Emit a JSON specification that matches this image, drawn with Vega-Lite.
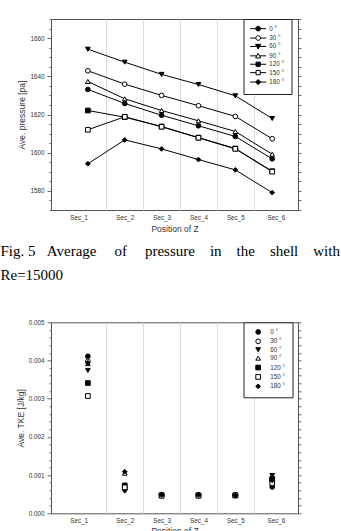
{
  "$schema": "https://vega.github.io/schema/vega-lite/v6.json",
  "background": "white",
  "padding": {"left": 0, "top": 15, "right": 0, "bottom": 0},
  "bounds": "flush",
  "spacing": 112.3,
  "config": {
    "font": "Liberation Sans",
    "view": {"stroke": "#555", "strokeWidth": 1},
    "axis": {
      "labelFont": "Liberation Sans", "labelFontSize": 6.3, "labelColor": "#333",
      "titleFont": "Liberation Sans", "titleFontSize": 8.5, "titleFontWeight": "normal", "titleColor": "#333",
      "domain": false, "tickColor": "#444", "tickWidth": 0.8, "grid": false, "labelOverlap": false
    },
    "legend": {
      "orient": "none", "legendX": 192.5, "legendY": 0,
      "strokeColor": "#222", "fillColor": "white", "padding": 6.5, "rowPadding": -0.6,
      "labelFont": "Liberation Sans", "labelFontSize": 6.3, "labelColor": "#333",
      "symbolSize": 22, "symbolStrokeWidth": 1,
      "symbolOffset": 5, "labelOffset": 9
    }
  },
  "datasets": {
    "pressure": [
      {"z": 1, "angle": "0 °", "p": 1633.1}, {"z": 2, "angle": "0 °", "p": 1625.8}, {"z": 3, "angle": "0 °", "p": 1619.6},
      {"z": 4, "angle": "0 °", "p": 1614.1}, {"z": 5, "angle": "0 °", "p": 1608.5}, {"z": 6, "angle": "0 °", "p": 1596.8},
      {"z": 1, "angle": "30 °", "p": 1642.9}, {"z": 2, "angle": "30 °", "p": 1635.9}, {"z": 3, "angle": "30 °", "p": 1630.0},
      {"z": 4, "angle": "30 °", "p": 1624.6}, {"z": 5, "angle": "30 °", "p": 1619.0}, {"z": 6, "angle": "30 °", "p": 1607.3},
      {"z": 1, "angle": "60 °", "p": 1654.2}, {"z": 2, "angle": "60 °", "p": 1647.4}, {"z": 3, "angle": "60 °", "p": 1641.0},
      {"z": 4, "angle": "60 °", "p": 1635.7}, {"z": 5, "angle": "60 °", "p": 1629.8}, {"z": 6, "angle": "60 °", "p": 1617.9},
      {"z": 1, "angle": "90 °", "p": 1637.3}, {"z": 2, "angle": "90 °", "p": 1628.2}, {"z": 3, "angle": "90 °", "p": 1622.1},
      {"z": 4, "angle": "90 °", "p": 1616.7}, {"z": 5, "angle": "90 °", "p": 1611.1}, {"z": 6, "angle": "90 °", "p": 1599.2},
      {"z": 1, "angle": "120 °", "p": 1622.1}, {"z": 2, "angle": "120 °", "p": 1618.6}, {"z": 3, "angle": "120 °", "p": 1613.7},
      {"z": 4, "angle": "120 °", "p": 1607.9}, {"z": 5, "angle": "120 °", "p": 1602.2}, {"z": 6, "angle": "120 °", "p": 1590.3},
      {"z": 1, "angle": "150 °", "p": 1612.0}, {"z": 2, "angle": "150 °", "p": 1618.8}, {"z": 3, "angle": "150 °", "p": 1613.6},
      {"z": 4, "angle": "150 °", "p": 1607.8}, {"z": 5, "angle": "150 °", "p": 1602.0}, {"z": 6, "angle": "150 °", "p": 1590.1},
      {"z": 1, "angle": "180 °", "p": 1594.2}, {"z": 2, "angle": "180 °", "p": 1606.7}, {"z": 3, "angle": "180 °", "p": 1602.0},
      {"z": 4, "angle": "180 °", "p": 1596.4}, {"z": 5, "angle": "180 °", "p": 1591.0}, {"z": 6, "angle": "180 °", "p": 1579.1}
    ],
    "tke": [
      {"z": 1, "angle": "0 °", "k": 0.00411}, {"z": 2, "angle": "0 °", "k": 0.00062}, {"z": 3, "angle": "0 °", "k": 0.00049},
      {"z": 4, "angle": "0 °", "k": 0.00048}, {"z": 5, "angle": "0 °", "k": 0.00047}, {"z": 6, "angle": "0 °", "k": 0.00069},
      {"z": 1, "angle": "30 °", "k": 0.00398}, {"z": 2, "angle": "30 °", "k": 0.00066}, {"z": 3, "angle": "30 °", "k": 0.00048},
      {"z": 4, "angle": "30 °", "k": 0.00047}, {"z": 5, "angle": "30 °", "k": 0.00047}, {"z": 6, "angle": "30 °", "k": 0.00087},
      {"z": 1, "angle": "60 °", "k": 0.00374}, {"z": 2, "angle": "60 °", "k": 0.00058}, {"z": 3, "angle": "60 °", "k": 0.00047},
      {"z": 4, "angle": "60 °", "k": 0.00046}, {"z": 5, "angle": "60 °", "k": 0.00047}, {"z": 6, "angle": "60 °", "k": 0.00099},
      {"z": 1, "angle": "90 °", "k": 0.00392}, {"z": 2, "angle": "90 °", "k": 0.00105}, {"z": 3, "angle": "90 °", "k": 0.00048},
      {"z": 4, "angle": "90 °", "k": 0.00047}, {"z": 5, "angle": "90 °", "k": 0.00047}, {"z": 6, "angle": "90 °", "k": 0.00096},
      {"z": 1, "angle": "120 °", "k": 0.00341}, {"z": 2, "angle": "120 °", "k": 0.00073}, {"z": 3, "angle": "120 °", "k": 0.00047},
      {"z": 4, "angle": "120 °", "k": 0.00047}, {"z": 5, "angle": "120 °", "k": 0.00047}, {"z": 6, "angle": "120 °", "k": 0.00090},
      {"z": 1, "angle": "150 °", "k": 0.00307}, {"z": 2, "angle": "150 °", "k": 0.00068}, {"z": 3, "angle": "150 °", "k": 0.00046},
      {"z": 4, "angle": "150 °", "k": 0.00046}, {"z": 5, "angle": "150 °", "k": 0.00047}, {"z": 6, "angle": "150 °", "k": 0.00079},
      {"z": 1, "angle": "180 °", "k": 0.00394}, {"z": 2, "angle": "180 °", "k": 0.00109}, {"z": 3, "angle": "180 °", "k": 0.00048},
      {"z": 4, "angle": "180 °", "k": 0.00048}, {"z": 5, "angle": "180 °", "k": 0.00047}, {"z": 6, "angle": "180 °", "k": 0.00086}
    ]
  },
  "resolve": {
    "scale": {"shape": "independent", "fill": "independent", "stroke": "independent"},
    "legend": {"shape": "independent", "fill": "independent", "stroke": "independent"}
  },
  "vconcat": [
    {
      "width": 247,
      "height": 191,
      "data": {"name": "pressure"},
      "layer": [
        {
          "mark": {"type": "line", "color": "black", "strokeWidth": 1},
          "encoding": {
            "x": {
              "field": "z", "type": "quantitative",
              "scale": {"domain": [0, 6.7], "nice": false, "zero": false},
              "axis": {
                "orient": "bottom", "title": "Position of Z",
                "values": [0.75, 2, 3, 4, 5, 6.1],
                "labelExpr": "'Sec_' + round(datum.value)",
                "ticks": false, "labelPadding": 4, "titlePadding": 4
              }
            },
            "y": {
              "field": "p", "type": "quantitative",
              "scale": {"domain": [1570, 1670], "nice": false, "zero": false},
              "axis": {
                "orient": "left", "title": "Ave. pressure [pa]", "format": "d",
                "values": [1570, 1575, 1580, 1585, 1590, 1595, 1600, 1605, 1610, 1615, 1620, 1625, 1630, 1635, 1640, 1645, 1650, 1655, 1660, 1665, 1670],
                "labelExpr": "datum.value % 20 === 0 ? datum.label : ''",
                "tickSize": {"condition": {"test": "datum.value % 20 === 0", "value": 4}, "value": 2},
                "labelPadding": 3, "titlePadding": 3
              }
            },
            "detail": {"field": "angle", "type": "nominal"}
          }
        },
        {
          "mark": {"type": "point", "filled": true, "stroke": "black", "strokeWidth": 1, "size": 22, "opacity": 1},
          "encoding": {
            "x": {
              "field": "z", "type": "quantitative",
              "axis": {
                "orient": "top", "title": null, "values": [1.5, 2.5, 3.5, 4.5, 5.5],
                "grid": true, "gridColor": "#ddd", "gridWidth": 1, "labels": false, "ticks": false, "domain": false
              }
            },
            "y": {
              "field": "p", "type": "quantitative",
              "axis": {
                "orient": "right", "title": null, "labels": false, "tickSize": 3,
                "values": [1570, 1575, 1580, 1585, 1590, 1595, 1600, 1605, 1610, 1615, 1620, 1625, 1630, 1635, 1640, 1645, 1650, 1655, 1660, 1665, 1670]
              }
            },
            "shape": {
              "field": "angle", "type": "nominal", "legend": null,
              "scale": {
                "domain": ["0 °", "30 °", "60 °", "90 °", "120 °", "150 °", "180 °"],
                "range": ["circle", "circle", "triangle-down", "triangle-up", "square", "square", "diamond"]
              }
            },
            "fill": {
              "field": "angle", "type": "nominal", "legend": null,
              "scale": {
                "domain": ["0 °", "30 °", "60 °", "90 °", "120 °", "150 °", "180 °"],
                "range": ["black", "white", "black", "white", "black", "white", "black"]
              }
            }
          }
        },
        {
          "transform": [{"filter": "false"}],
          "mark": {"type": "point", "filled": true, "strokeWidth": 1, "size": 22, "opacity": 1},
          "encoding": {
            "x": {"field": "z", "type": "quantitative", "axis": null},
            "y": {"field": "p", "type": "quantitative", "axis": null},
            "shape": {
              "field": "angle", "type": "nominal",
              "legend": {"title": null, "labelOffset": 8},
              "scale": {
                "domain": ["0 °", "30 °", "60 °", "90 °", "120 °", "150 °", "180 °"],
                "range": [
                  "M-3.4,0H-1M1,0H3.4M1,0A1,1,0,1,1,-1,0A1,1,0,1,1,1,0Z",
                  "M-3.4,0H-1M1,0H3.4M1,0A1,1,0,1,1,-1,0A1,1,0,1,1,1,0Z",
                  "M-3.4,0H-0.6M0.6,0H3.4M0,1.1L1.1,-0.9H-1.1Z",
                  "M-3.4,0H-0.6M0.6,0H3.4M0,-1.1L1.1,0.9H-1.1Z",
                  "M-3.4,0H-0.9M0.9,0H3.4M-0.9,-0.9H0.9V0.9H-0.9Z",
                  "M-3.4,0H-0.9M0.9,0H3.4M-0.9,-0.9H0.9V0.9H-0.9Z",
                  "M-3.4,0H-1.1M1.1,0H3.4M0,-1.1L1.1,0L0,1.1L-1.1,0Z"
                ]
              }
            },
            "fill": {
              "field": "angle", "type": "nominal",
              "legend": {"title": null, "labelOffset": 8},
              "scale": {
                "domain": ["0 °", "30 °", "60 °", "90 °", "120 °", "150 °", "180 °"],
                "range": ["black", "white", "black", "white", "black", "white", "black"]
              }
            },
            "stroke": {
              "field": "angle", "type": "nominal",
              "legend": {"title": null, "labelOffset": 8},
              "scale": {
                "domain": ["0 °", "30 °", "60 °", "90 °", "120 °", "150 °", "180 °"],
                "range": ["black", "black", "black", "black", "black", "black", "black"]
              }
            }
          }
        }
      ],
      "resolve": {
        "axis": {"x": "independent", "y": "independent"},
        "scale": {"shape": "independent", "fill": "independent", "stroke": "independent"},
        "legend": {"shape": "independent", "fill": "independent", "stroke": "independent"}
      }
    },
    {
      "width": 247,
      "height": 191,
      "data": {"name": "tke"},
      "title": {
        "text": [
          "Fig. 5 \u00a0\u00a0Average\u00a0\u00a0\u00a0\u00a0\u2009of\u00a0\u00a0\u00a0\u00a0\u2009pressure\u00a0\u00a0\u00a0\u00a0in\u00a0\u00a0\u00a0\u00a0the\u00a0\u00a0\u00a0\u00a0shell\u00a0\u00a0\u00a0\u00a0with",
          "\u00a0\u00a0\u00a0\u00a0\u00a0\u00a0\u00a0\u00a0\u00a0\u00a0\u00a0\u00a0\u2009Re=15000"
        ],
        "anchor": "start", "frame": "group", "dx": -50.5,
        "font": "Liberation Serif", "fontSize": 15, "fontWeight": "normal", "color": "black",
        "lineHeight": 23.5, "baseline": "bottom", "offset": 21.5
      },
      "layer": [
        {
          "mark": {"type": "point", "filled": true, "strokeWidth": 1, "size": 22, "opacity": 1},
          "encoding": {
            "x": {
              "field": "z", "type": "quantitative",
              "scale": {"domain": [0, 6.7], "nice": false, "zero": false},
              "axis": {
                "orient": "bottom", "title": "Position of Z",
                "values": [0.75, 2, 3, 4, 5, 6.1],
                "labelExpr": "'Sec_' + round(datum.value)",
                "ticks": false, "labelPadding": 4, "titlePadding": 3
              }
            },
            "y": {
              "field": "k", "type": "quantitative",
              "scale": {"domain": [0, 0.005], "nice": false, "zero": false},
              "axis": {
                "orient": "left", "title": "Ave. TKE [J/kg]", "format": ".3f",
                "values": [0, 0.0002, 0.0004, 0.0006, 0.0008, 0.001, 0.0012, 0.0014, 0.0016, 0.0018, 0.002, 0.0022, 0.0024, 0.0026, 0.0028, 0.003, 0.0032, 0.0034, 0.0036, 0.0038, 0.004, 0.0042, 0.0044, 0.0046, 0.0048, 0.005],
                "labelExpr": "abs(round(datum.value * 10000) % 10) < 0.5 ? datum.label : ''",
                "tickSize": {"condition": {"test": "abs(round(datum.value * 10000) % 10) < 0.5", "value": 4}, "value": 2},
                "labelPadding": 3, "titlePadding": 3
              }
            },
            "shape": {
              "field": "angle", "type": "nominal", "legend": {"title": null},
              "scale": {
                "domain": ["0 °", "30 °", "60 °", "90 °", "120 °", "150 °", "180 °"],
                "range": ["circle", "circle", "triangle-down", "triangle-up", "square", "square", "diamond"]
              }
            },
            "fill": {
              "field": "angle", "type": "nominal", "legend": {"title": null},
              "scale": {
                "domain": ["0 °", "30 °", "60 °", "90 °", "120 °", "150 °", "180 °"],
                "range": ["black", "white", "black", "white", "black", "white", "black"]
              }
            },
            "stroke": {
              "field": "angle", "type": "nominal", "legend": {"title": null},
              "scale": {
                "domain": ["0 °", "30 °", "60 °", "90 °", "120 °", "150 °", "180 °"],
                "range": ["black", "black", "black", "black", "black", "black", "black"]
              }
            }
          }
        },
        {
          "mark": {"type": "point", "opacity": 0},
          "encoding": {
            "x": {
              "field": "z", "type": "quantitative",
              "axis": {
                "orient": "top", "title": null, "values": [1.5, 2.5, 3.5, 4.5, 5.5],
                "grid": true, "gridColor": "#ddd", "gridWidth": 1, "labels": false, "ticks": false, "domain": false
              }
            },
            "y": {
              "field": "k", "type": "quantitative",
              "axis": {
                "orient": "right", "title": null, "labels": false, "tickSize": 3,
                "values": [0, 0.0002, 0.0004, 0.0006, 0.0008, 0.001, 0.0012, 0.0014, 0.0016, 0.0018, 0.002, 0.0022, 0.0024, 0.0026, 0.0028, 0.003, 0.0032, 0.0034, 0.0036, 0.0038, 0.004, 0.0042, 0.0044, 0.0046, 0.0048, 0.005]
              }
            }
          }
        }
      ],
      "resolve": {"axis": {"x": "independent", "y": "independent"}}
    }
  ]
}
